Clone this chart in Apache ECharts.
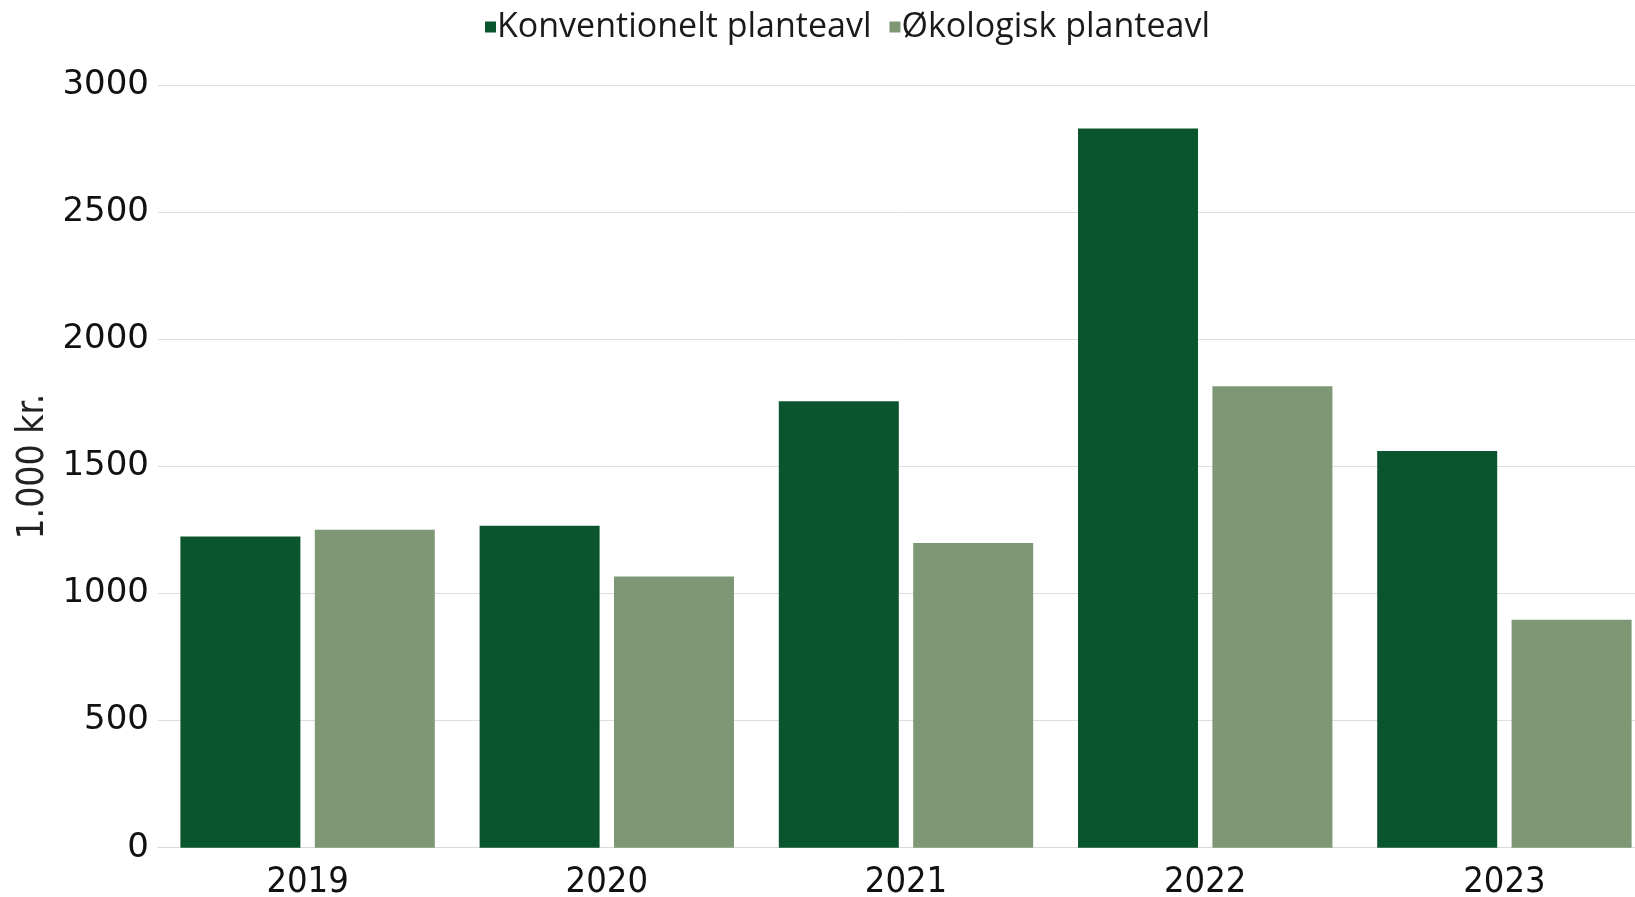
<!DOCTYPE html>
<html><head><meta charset="utf-8">
<script src="https://cdn.jsdelivr.net/npm/echarts@6/dist/echarts.min.js"></script>
<style>html,body{margin:0;padding:0;background:#fff}#c{width:1635px;height:897px}</style>
</head><body><div id="c"></div>
<script>
const categories = ['2019', '2020', '2021', '2022', '2023'];
const seriesNames = ['Konventionelt planteavl', 'Økologisk planteavl'];
const konventionelt = [1225, 1267, 1757, 2831, 1561];
const okologisk = [1251, 1067, 1199, 1816, 897];
const yTicks = [0, 500, 1000, 1500, 2000, 2500, 3000];
const yName = '1.000 kr.';

const yMin = yTicks[0], yMax = yTicks[yTicks.length - 1];
const chart = echarts.init(document.getElementById('c'), null, {renderer: 'canvas'});
chart.setOption({
  animation: false,
  backgroundColor: '#ffffff',
  legend: {
    top: 5, left: 480,
    itemWidth: 11, itemHeight: 11, itemGap: 18,
    icon: 'rect',
    textStyle: {fontFamily: 'Open Sans', fontSize: 34, color: '#1a1a1a', padding: [0,0,0,-4]},
    data: seriesNames
  },
  grid: [
    {left: 158, right: 0, top: 85.5, height: 762.2, containLabel: false, outerBoundsMode: 'none'},
    {left: 307.6, width: 1196.8, top: 85.5, height: 762.2, containLabel: false, outerBoundsMode: 'none'}
  ],
  xAxis: [
    {type: 'category', gridIndex: 0, data: categories,
     axisLine: {lineStyle: {color: '#d9d9d9', width: 1}},
     axisTick: {show: false}, axisLabel: {show: false}},
    {type: 'category', gridIndex: 1, data: categories, boundaryGap: false,
     axisLine: {show: false}, axisTick: {show: false},
     axisLabel: {fontFamily: 'DejaVu Sans Condensed', fontSize: 36, color: '#111', margin: 17}}
  ],
  yAxis: [
    {type: 'value', gridIndex: 0, min: yMin, max: yMax, interval: 500,
     name: yName, nameLocation: 'middle', nameGap: 94, nameRotate: 90,
     nameTextStyle: {fontFamily: 'DejaVu Sans Condensed', fontSize: 37, color: '#222'},
     axisLine: {show: false}, axisTick: {show: false},
     splitLine: {lineStyle: {color: '#dedede', width: 1}},
     axisLabel: {fontFamily: 'DejaVu Sans', fontSize: 34, color: '#111', margin: 9,
       formatter: v => String(v)}},
    {type: 'value', gridIndex: 1, min: yMin, max: yMax, interval: 500, show: false}
  ],
  series: [
    {name: seriesNames[0], type: 'bar', xAxisIndex: 1, yAxisIndex: 1, data: konventionelt,
     barWidth: 120, barGap: '12%', itemStyle: {color: '#0a552d'}},
    {name: seriesNames[1], type: 'bar', xAxisIndex: 1, yAxisIndex: 1, data: okologisk,
     barWidth: 120, itemStyle: {color: '#7e9876'}}
  ]
});
</script></body></html>
